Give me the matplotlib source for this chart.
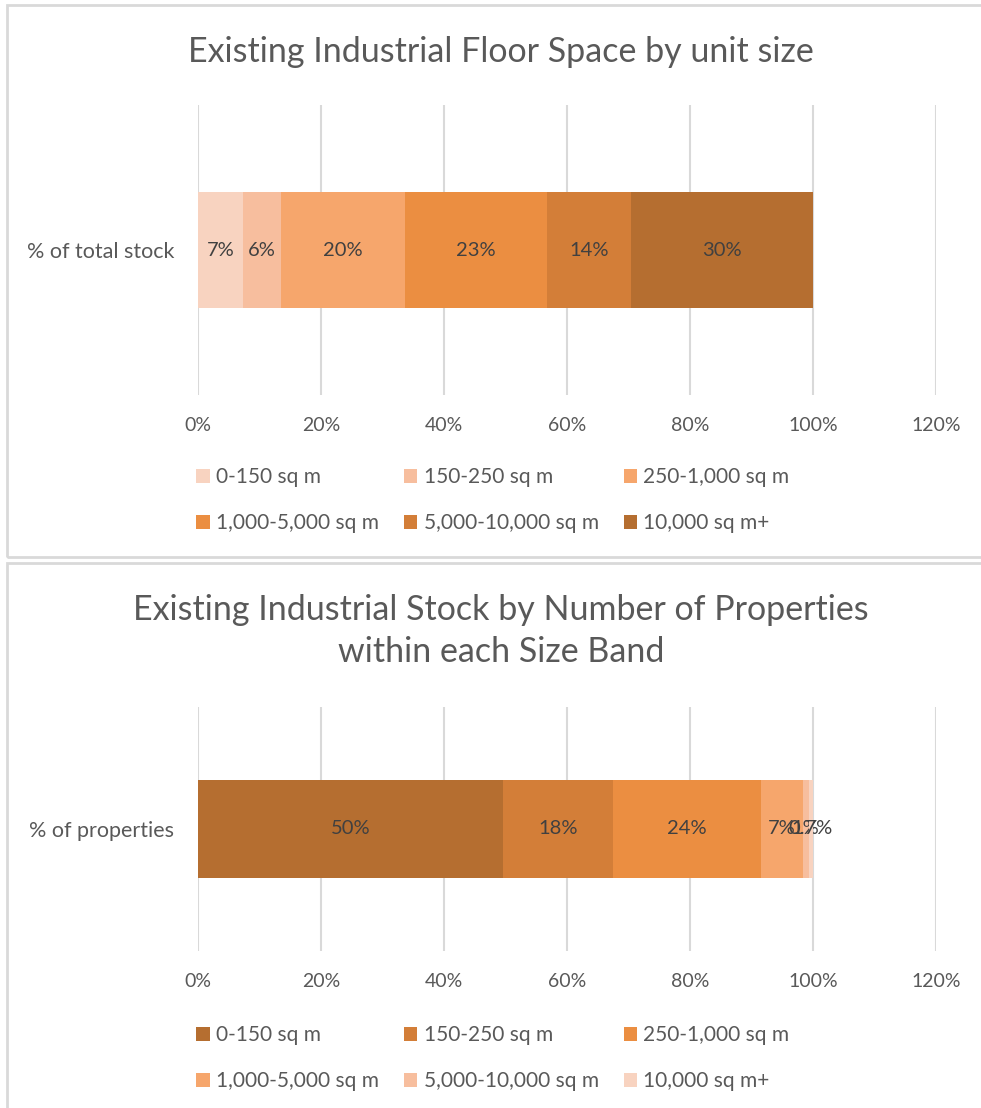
import matplotlib
matplotlib.use("Agg")
import matplotlib.pyplot as plt
from matplotlib.patches import Patch, Rectangle

plt.rcParams['font.family'] = ['Lato', 'DejaVu Sans']

# ---- data -------------------------------------------------------------
size_bands = ["0-150 sq m", "150-250 sq m", "250-1,000 sq m",
              "1,000-5,000 sq m", "5,000-10,000 sq m", "10,000 sq m+"]

floor_category = "% of total stock"
floor_share = [0.073, 0.062, 0.202, 0.231, 0.136, 0.296]

props_category = "% of properties"
props_share = [0.496, 0.179, 0.240, 0.068, 0.010, 0.007]

floor_title = "Existing Industrial Floor Space by unit size"
props_title = "Existing Industrial Stock by Number of Properties\nwithin each Size Band"

x_ticks = [0.0, 0.2, 0.4, 0.6, 0.8, 1.0, 1.2]

# light -> dark orange ramp
ramp = ["#F8D3C0", "#F7BE9E", "#F6A66C", "#EB8E41", "#D37E38", "#B56E30"]
floor_colors = ramp
props_colors = ramp[::-1]

TXT = "#595959"
LBL = "#404040"
GRID = "#D9D9D9"

W, H = 981, 1108
fig = plt.figure(figsize=(W / 100, H / 100), dpi=100)


def fx(px):
    return px / W


def fy(py):
    return 1 - py / H


def pct_label(v):
    return f"{v:.0%}" if v >= 0.01 else f"{v * 100:.1f}%"


def draw_panel(top_px, bottom_px, category, shares, colors, legend_top_px):
    ax = fig.add_axes([fx(198), fy(bottom_px), fx(936) - fx(198),
                       fy(top_px) - fy(bottom_px)])
    left = 0.0
    for band, v, c in zip(size_bands, shares, colors):
        bars = ax.barh([0], [v], left=[left], height=0.4, color=c,
                       label=band, zorder=3)
        ax.bar_label(bars, labels=[pct_label(v)], label_type="center",
                     fontsize=14.5, color=LBL)
        left += v
    ax.set_xlim(0, 1.2)
    ax.set_ylim(-0.5, 0.5)
    ax.set_xticks(x_ticks)
    ax.set_xticklabels([f"{t:.0%}" for t in x_ticks])
    ax.set_yticks([0])
    ax.set_yticklabels([category])
    ax.tick_params(axis="both", length=0, labelsize=14, labelcolor=TXT)
    ax.tick_params(axis="x", pad=16)
    ax.tick_params(axis="y", pad=17, labelsize=15.5)
    ax.xaxis.grid(True, color=GRID, linewidth=1.5, zorder=0)
    ax.set_axisbelow(True)
    for s in ax.spines.values():
        s.set_visible(False)
    ax.set_facecolor("none")

    handles = [Patch(facecolor=c, edgecolor="none") for c in colors]
    order = [0, 3, 1, 4, 2, 5]
    fig.legend([handles[i] for i in order], [size_bands[i] for i in order],
               ncol=3, loc="upper left",
               bbox_to_anchor=(fx(196), fy(legend_top_px)),
               frameon=False, fontsize=15, labelcolor=TXT,
               handlelength=0.65, handleheight=0.65, handletextpad=0.3,
               columnspacing=1.2, labelspacing=1.25, borderpad=0,
               borderaxespad=0)
    return ax


# chart frames
fig.patches.append(Rectangle((fx(7), fy(557)), fx(990) - fx(7), fy(5) - fy(557),
                             transform=fig.transFigure, fill=False,
                             edgecolor=GRID, linewidth=2))
fig.patches.append(Rectangle((fx(7), fy(1120)), fx(990) - fx(7), fy(563) - fy(1120),
                             transform=fig.transFigure, fill=False,
                             edgecolor=GRID, linewidth=2))

draw_panel(105, 395, floor_category, floor_share, floor_colors, 467)
draw_panel(707, 951, props_category, props_share, props_colors, 1025)

fig.text(fx(501), fy(52), floor_title, ha="center", va="center",
         fontsize=24.5, color=TXT)
fig.text(fx(501), fy(631), props_title, ha="center", va="center",
         fontsize=24.5, color=TXT, linespacing=1.38)

fig.savefig("out.png", dpi=100)
